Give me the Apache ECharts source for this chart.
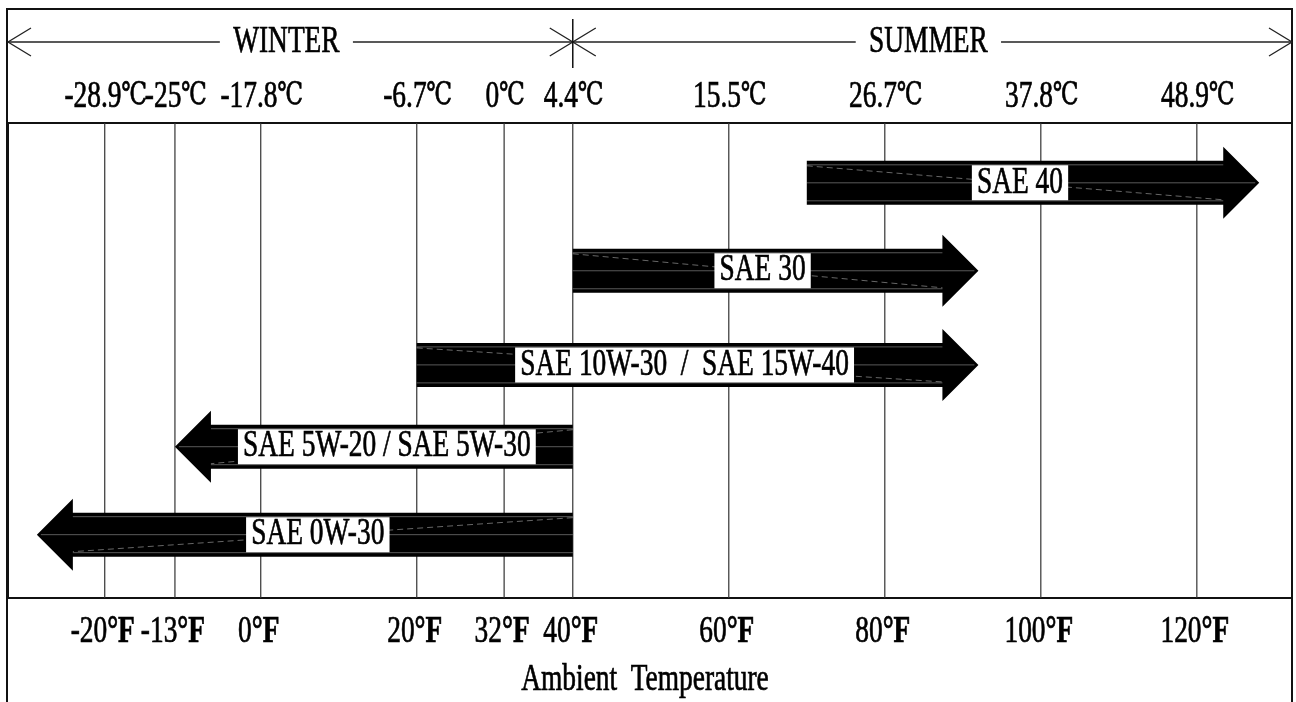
<!DOCTYPE html>
<html>
<head>
<meta charset="utf-8">
<script src="https://cdn.jsdelivr.net/npm/echarts@6/dist/echarts.min.js"></script>
<style>
  html, body { margin: 0; padding: 0; background: #fff; }
  #container { width: 1296px; height: 702px; }
</style>
</head>
<body>
<div id="container"></div>
<script>
// tick labels (°F / °C) and where the drawing puts each line on the °F scale
// (the original is not quite to scale: -13°F and 32°F sit a little off)
var fTicks = ['-20', '-13', '0', '20', '32', '40', '60', '80', '100', '120'];
var cTicks = ['-28.9', '-25', '-17.8', '-6.7', '0', '4.4', '15.5', '26.7', '37.8', '48.9'];
var tickAt = [-20, -11, 0, 20, 31.2, 40, 60, 80, 100, 120];

// oil grades, one arrow per row (from -> arrow tip, °F)
var grades = ['SAE 40', 'SAE 30', 'SAE 10W-30  /  SAE 15W-40', 'SAE 5W-20 / SAE 5W-30', 'SAE 0W-30'];
var gradeFrom = [70, 40, 20, 40, 40];
var gradeTo = [128, 92, 92, -11, -28.7];
var gradeRow = [1, 2, 3.07, 4, 5];

// seasons on top
var seasons = ['WINTER', 'SUMMER'];
var seasonFrom = [-32.4, 40];
var seasonTo = [40, 132.2];

var X_MIN = -32.4, X_MAX = 132.2;
var Y_MIN = 0.32, Y_MAX = 5.72;
var FONT = '"Liberation Serif", "DejaVu Serif", serif';
var FS = 37;
var SX = 0.74; // condensed look

function txt(x, y, text, extra) {
    var style = {
        text: text,
        font: FS + 'px ' + FONT,
        fill: '#000',
        stroke: '#000',
        lineWidth: 0.7,
        align: 'center',
        verticalAlign: 'middle'
    };
    for (var k in extra) style[k] = extra[k];
    return { type: 'text', x: x, y: y, scaleX: SX, style: style };
}

var myChart = echarts.init(document.getElementById('container'));

var option = {
    backgroundColor: '#fff',
    animation: false,
    grid: {
        left: 8, right: 4, top: 123, bottom: 104,
        show: true, borderColor: '#111', borderWidth: 2
    },
    xAxis: {
        type: 'value', min: X_MIN, max: X_MAX,
        axisLine: { show: false }, axisTick: { show: false },
        axisLabel: { show: false }, splitLine: { show: false }
    },
    yAxis: {
        type: 'value', min: Y_MIN, max: Y_MAX, inverse: true,
        axisLine: { show: false }, axisTick: { show: false },
        axisLabel: { show: false }, splitLine: { show: false }
    },
    graphic: [{
        type: 'rect',
        shape: { x: 7, y: 9, width: 1285, height: 720 },
        style: { fill: 'none', stroke: '#111', lineWidth: 2 },
        silent: true
    }, {
        type: 'text', x: 645, y: 680, scaleX: SX,
        style: {
            text: 'Ambient  Temperature', font: FS + 'px ' + FONT, fill: '#000',
            stroke: '#000', lineWidth: 0.7,
            align: 'center', verticalAlign: 'middle'
        }
    }],
    series: [{
        // vertical lines + °C / °F labels
        type: 'custom',
        data: tickAt.map(function (f) { return [f, 1]; }),
        encode: { x: 0, y: 1 },
        renderItem: function (params, api) {
            var i = params.dataIndex;
            var top = api.coord([api.value(0), Y_MIN]);
            var bot = api.coord([api.value(0), Y_MAX]);
            return {
                type: 'group',
                children: [{
                    type: 'line',
                    shape: { x1: top[0], y1: top[1], x2: bot[0], y2: bot[1] },
                    style: { stroke: '#333', lineWidth: 1.2 }
                },
                txt(top[0] + 1, top[1] - 26, '{n|' + cTicks[i] + '}{c|℃}', {
                    rich: {
                        n: { font: FS + 'px ' + FONT, fill: '#000' },
                        c: { font: '31px ' + FONT, fill: '#000', padding: [0, 0, 3, 0] }
                    }
                }),
                txt(bot[0] - 2, bot[1] + 34, '{n|' + fTicks[i] + '}{u|°F}', {
                    rich: {
                        n: { font: FS + 'px ' + FONT, fill: '#000' },
                        u: { font: 'bold ' + FS + 'px ' + FONT, fill: '#000' }
                    }
                })]
            };
        }
    }, {
        // WINTER / SUMMER
        type: 'custom',
        data: seasons.map(function (s, i) { return [seasonFrom[i], seasonTo[i], 1]; }),
        encode: { x: [0, 1], y: 2 },
        renderItem: function (params, api) {
            var i = params.dataIndex;
            var a = api.coord([api.value(0), Y_MIN]);
            var b = api.coord([api.value(1), Y_MIN]);
            var y = a[1] - 81;
            var st = { stroke: '#222', lineWidth: 1.3, fill: 'none' };
            var kids = [{
                type: 'line', shape: { x1: a[0], y1: y, x2: b[0], y2: y }, style: st
            }, {
                type: 'polyline', shape: { points: [[a[0] + 23, y - 14], [a[0], y], [a[0] + 23, y + 14]] }, style: st
            }, {
                type: 'polyline', shape: { points: [[b[0] - 23, y - 14], [b[0], y], [b[0] - 23, y + 14]] }, style: st
            },
            txt((a[0] + b[0]) / 2 - 4, y, seasons[i], { backgroundColor: '#fff', padding: [0, 18] })];
            if (i > 0) {
                kids.push({
                    type: 'line', shape: { x1: a[0], y1: y - 23, x2: a[0], y2: y + 26 },
                    style: { stroke: '#111', lineWidth: 1.5 }
                });
            }
            return { type: 'group', children: kids };
        }
    }, {
        // oil grade arrows
        type: 'custom',
        data: grades.map(function (g, i) { return [gradeFrom[i], gradeTo[i], gradeRow[i]]; }),
        encode: { x: [0, 1], y: 2 },
        renderItem: function (params, api) {
            var i = params.dataIndex;
            var p0 = api.coord([api.value(0), api.value(2)]);
            var p1 = api.coord([api.value(1), api.value(2)]);
            var y = p0[1];
            var dir = p1[0] > p0[0] ? 1 : -1;
            var bh = 22, hh = 36, hl = 36;
            var base = p1[0] - dir * hl;
            var streak = { stroke: 'rgba(255,255,255,0.35)', lineWidth: 1 };
            return {
                type: 'group',
                children: [{
                    type: 'polygon',
                    shape: {
                        points: [
                            [p0[0], y - bh], [base, y - bh], [base, y - hh], [p1[0], y],
                            [base, y + hh], [base, y + bh], [p0[0], y + bh]
                        ]
                    },
                    style: { fill: '#000' }
                }, {
                    type: 'line', shape: { x1: p0[0], y1: y - bh + 4, x2: base, y2: y - bh + 4 }, style: streak
                }, {
                    type: 'line', shape: { x1: p0[0], y1: y, x2: p1[0] - dir * 4, y2: y }, style: streak
                }, {
                    type: 'line', shape: { x1: p0[0], y1: y + bh - 4, x2: base, y2: y + bh - 4 }, style: streak
                }, {
                    type: 'line', shape: { x1: p0[0], y1: y - bh + 5, x2: base, y2: y + bh - 5 },
                    style: { stroke: 'rgba(255,255,255,0.4)', lineWidth: 1, lineDash: [6, 4] }
                },
                txt((p0[0] + base) / 2 + dir * 5, y, grades[i], {
                    backgroundColor: '#fff', padding: [0, 7], lineHeight: 35
                })]
            };
        }
    }]
};
myChart.setOption(option);
</script>
</body>
</html>
